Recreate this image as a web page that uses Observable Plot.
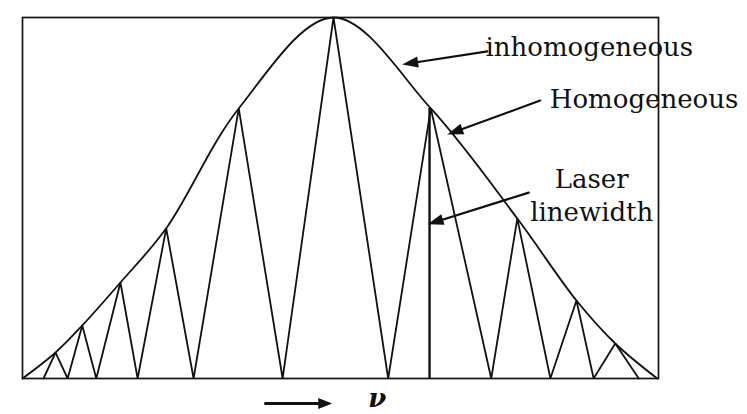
<!DOCTYPE html>
<html>
<head>
<meta charset="utf-8">
<script src="https://cdn.jsdelivr.net/npm/d3@7"></script>
<script src="https://cdn.jsdelivr.net/npm/@observablehq/plot@0.6"></script>
<style>
  html, body { margin: 0; padding: 0; background: #fff; }
  svg { display: block; }
</style>
</head>
<body>
<div id="chart"></div>
<script>
// Homogeneous (mode) curve: alternating valleys and peaks
const homNu = [3.3, 5.2, 7.1, 9.4, 11.6, 15.4, 18.1, 22.6, 26.9, 34.0, 40.9, 48.9, 57.5, 64.2, 73.7, 77.8, 83.0, 87.1, 89.8, 93.2, 96.9];
const homI  = [0, 0.072, 0, 0.147, 0, 0.266, 0, 0.416, 0, 0.748, 0, 1.0, 0, 0.748, 0, 0.443, 0, 0.216, 0, 0.097, 0];

// Inhomogeneous envelope (passes through the mode peaks)
const envNu = [0, 5.2, 9.4, 15.4, 22.6, 34.0, 48.9, 64.2, 77.8, 87.1, 93.2, 99.8];
const envI  = [0, 0.072, 0.147, 0.266, 0.416, 0.748, 1.0, 0.748, 0.443, 0.216, 0.097, 0];

// Laser linewidth (single oscillating mode)
const laserNu = [64.0];
const laserI = [0.748];

// Annotation labels
const labelText = ["inhomogeneous", "Homogeneous", "Laser\nlinewidth"];
const labelNu   = [72.8, 82.9, 89.5];
const labelI    = [0.922, 0.778, 0.512];
const labelAnchor = ["start", "start", "middle"];

// Annotation arrows (tail -> tip)
const arrowNu1 = [73.1, 81.4, 79.6];
const arrowI1  = [0.906, 0.770, 0.515];
const arrowNu2 = [59.7, 66.8, 63.7];
const arrowI2  = [0.870, 0.676, 0.427];

// Frequency axis marker below the plot
const axisArrowNu = [38.2, 48.7];
const axisArrowI = -0.069;
const axisSymbol = "ν";
const axisSymbolNu = 55.8;
const axisSymbolI = -0.056;

const hom = homNu.map((x, i) => ({x, y: homI[i]}));
const env = envNu.map((x, i) => ({x, y: envI[i]}));
const labels = labelText.map((t, i) => ({t, x: labelNu[i], y: labelI[i], a: labelAnchor[i]}));
const arrows = arrowNu1.map((x1, i) => ({x1, y1: arrowI1[i], x2: arrowNu2[i], y2: arrowI2[i]}));
const axisArrow = [{x1: axisArrowNu[0], y1: axisArrowI, x2: axisArrowNu[1], y2: axisArrowI}];

const INK = "#111";
const FONT = "DejaVu Serif";

const base = {
  width: 747, height: 414,
  marginLeft: 22, marginRight: 89, marginTop: 17, marginBottom: 36,
  x: {domain: [0, 100], axis: null},
  y: {domain: [0, 1], axis: null},
  style: {background: "#fff"}
};

// Probe the scales so arrowheads can be oriented in screen space
const probe = Plot.plot({...base, marks: [Plot.frame()]});
const sx = probe.scale("x"), sy = probe.scale("y");
const X = d3.scaleLinear(sx.domain, sx.range);
const Y = d3.scaleLinear(sy.domain, sy.range);

function headSymbol(d, L, W) {
  const theta = Math.atan2(Y(d.y2) - Y(d.y1), X(d.x2) - X(d.x1));
  return {
    draw(ctx) {
      const c = Math.cos(theta), s = Math.sin(theta);
      const bx = -L * c, by = -L * s;
      const px = -s * W / 2, py = c * W / 2;
      ctx.moveTo(0, 0);
      ctx.lineTo(bx + px, by + py);
      ctx.lineTo(bx - px, by - py);
      ctx.closePath();
    }
  };
}

const headMarks = arrows.map(d => Plot.dot([d], {x: "x2", y: "y2", r: 5, symbol: headSymbol(d, 16, 11), fill: INK, stroke: "none"}));
const axisHead = Plot.dot(axisArrow, {x: "x2", y: "y2", r: 5, symbol: headSymbol(axisArrow[0], 14, 11), fill: INK, stroke: "none"});

const labelMarks = ["start", "middle"].map(anchor =>
  Plot.text(labels.filter(d => d.a === anchor), {
    x: "x", y: "y", text: "t", textAnchor: anchor,
    fontFamily: FONT, fontSize: 26, lineHeight: 1.27, fill: INK
  })
);

const chart = Plot.plot({
  ...base,
  marks: [
    Plot.line(env, {x: "x", y: "y", curve: "catmull-rom", stroke: INK, strokeWidth: 1.8}),
    Plot.line(hom, {x: "x", y: "y", curve: "linear", stroke: INK, strokeWidth: 1.8, strokeLinejoin: "miter"}),
    Plot.ruleX(laserNu, {x: d => d, y1: 0, y2: (d, i) => laserI[i], stroke: INK, strokeWidth: 2.4}),
    Plot.frame({stroke: INK, strokeWidth: 1.7}),
    Plot.arrow(arrows, {x1: "x1", y1: "y1", x2: "x2", y2: "y2", headLength: 0, insetEnd: 8, stroke: INK, strokeWidth: 2.2}),
    ...headMarks,
    ...labelMarks,
    Plot.arrow(axisArrow, {x1: "x1", y1: "y1", x2: "x2", y2: "y2", headLength: 0, insetEnd: 8, stroke: INK, strokeWidth: 3}),
    axisHead,
    Plot.text([axisSymbol], {x: axisSymbolNu, y: axisSymbolI, text: d => d, fontFamily: FONT, fontStyle: "italic", fontWeight: "bold", fontSize: 26, fill: INK})
  ]
});

document.getElementById("chart").appendChild(chart);
</script>
</body>
</html>
